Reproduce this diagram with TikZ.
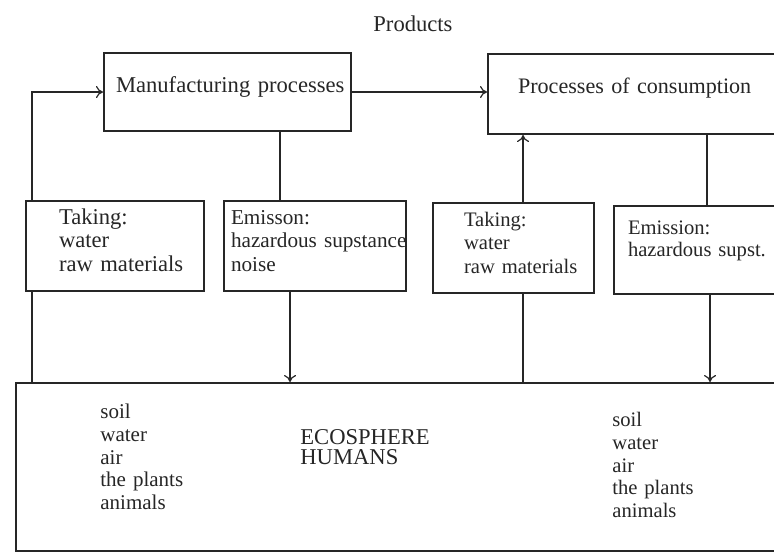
\documentclass[tikz,border=0pt]{standalone}
\usepackage{fontspec}
\setmainfont{Liberation Serif}
\usepackage{tikz}
\usetikzlibrary{arrows.meta, positioning}
\hyphenpenalty=10000
\exhyphenpenalty=10000

\begin{document}
\begin{tikzpicture}[
  x=0.5pt, y=-0.5pt,
  box/.style={
    rectangle, draw=black!85, line width=1pt,
    anchor=north west, align=left, inner ysep=0pt,
    font=\fontsize{11.3}{11.5}\selectfont, text=black!85
  },
  txt/.style={
    anchor=north west, align=left, inner sep=0pt,
    text height=0pt, text depth=0pt, text width=70pt,
    font=\fontsize{10.5}{11.4}\selectfont, text=black!85
  },
  conn/.style={draw=black!85, line width=0.6pt},
  arr/.style={conn, -{To[length=3.5pt, width=6pt]}}
]
  \path[use as bounding box, fill=white] (0,0) rectangle (774,552);
  \clip (0,0) rectangle (774,552);

  \node[anchor=base west, inner sep=0pt, text=black!85,
        font=\fontsize{11.3}{11.5}\selectfont] (products) at (373,31) {Products};

  \node[box, text width=111.5pt, inner xsep=6pt,
        text height=19.5pt, text depth=19.5pt] (manuf) at (103,52) {Manufacturing~processes};
  \node[box, text width=121.5pt, inner xsep=15pt,
        text height=19.5pt, text depth=20.5pt,
        font=\fontsize{11.05}{11.5}\selectfont] (consum) at (487,53) {Processes~of~consumption};

  \node[box, text width=56pt, inner xsep=16.5pt,
        text height=11.5pt, text depth=33.5pt,
        font=\fontsize{11.3}{11.75}\selectfont] (take1) at (25,200) {Taking:\\ water\\ raw~materials};
  \node[box, text width=84pt, inner xsep=3.5pt,
        text height=11.5pt, text depth=33.5pt,
        font=\fontsize{10.6}{11.75}\selectfont] (emis1) at (223,200) {Emisson:\\ hazardous~supstance\\ noise};
  \node[box, text width=49.5pt, inner xsep=15.5pt,
        text height=11.5pt, text depth=33.5pt,
        font=\fontsize{10.3}{11.75}\selectfont] (take2) at (432,202) {Taking:\\ water\\ raw~materials};
  \node[box, text width=74.5pt, inner xsep=7pt,
        text height=14pt, text depth=30pt,
        font=\fontsize{10.3}{11}\selectfont] (emis2) at (613,205) {Emission:\\ hazardous~supst.};

  \node[box, minimum width=387.5pt, minimum height=84pt, inner sep=0pt] (eco) at (15,382) {};
  \node[txt] (ecoleft) at (100,417) {soil\\ water\\ air\\ the~plants\\ animals};
  \node[txt, font=\fontsize{11.3}{10.2}\selectfont] (ecomid) at (300,443) {ECOSPHERE\\ HUMANS};
  \node[txt, font=\fontsize{10.3}{11.4}\selectfont] (ecoright) at (612,425) {soil\\ water\\ air\\ the~plants\\ animals};

  \coordinate (xl) at (32,0);
  \coordinate (xm) at (280,0);
  \coordinate (xe) at (290,0);
  \coordinate (xt) at (523,0);
  \coordinate (xc) at (707,0);
  \coordinate (xs) at (710,0);

  \draw[arr] (take1.north -| xl) |- (manuf.west);
  \draw[conn] (eco.north -| xl) -- (take1.south -| xl);
  \draw[arr] (manuf.east) -- (manuf.east -| consum.west);
  \draw[conn] (manuf.south -| xm) -- (emis1.north -| xm);
  \draw[arr] (emis1.south -| xe) -- (eco.north -| xe);
  \draw[conn] (eco.north -| xt) -- (take2.south -| xt);
  \draw[arr] (take2.north -| xt) -- (consum.south -| xt);
  \draw[conn] (consum.south -| xc) -- (emis2.north -| xc);
  \draw[arr] (emis2.south -| xs) -- (eco.north -| xs);
\end{tikzpicture}
\end{document}
